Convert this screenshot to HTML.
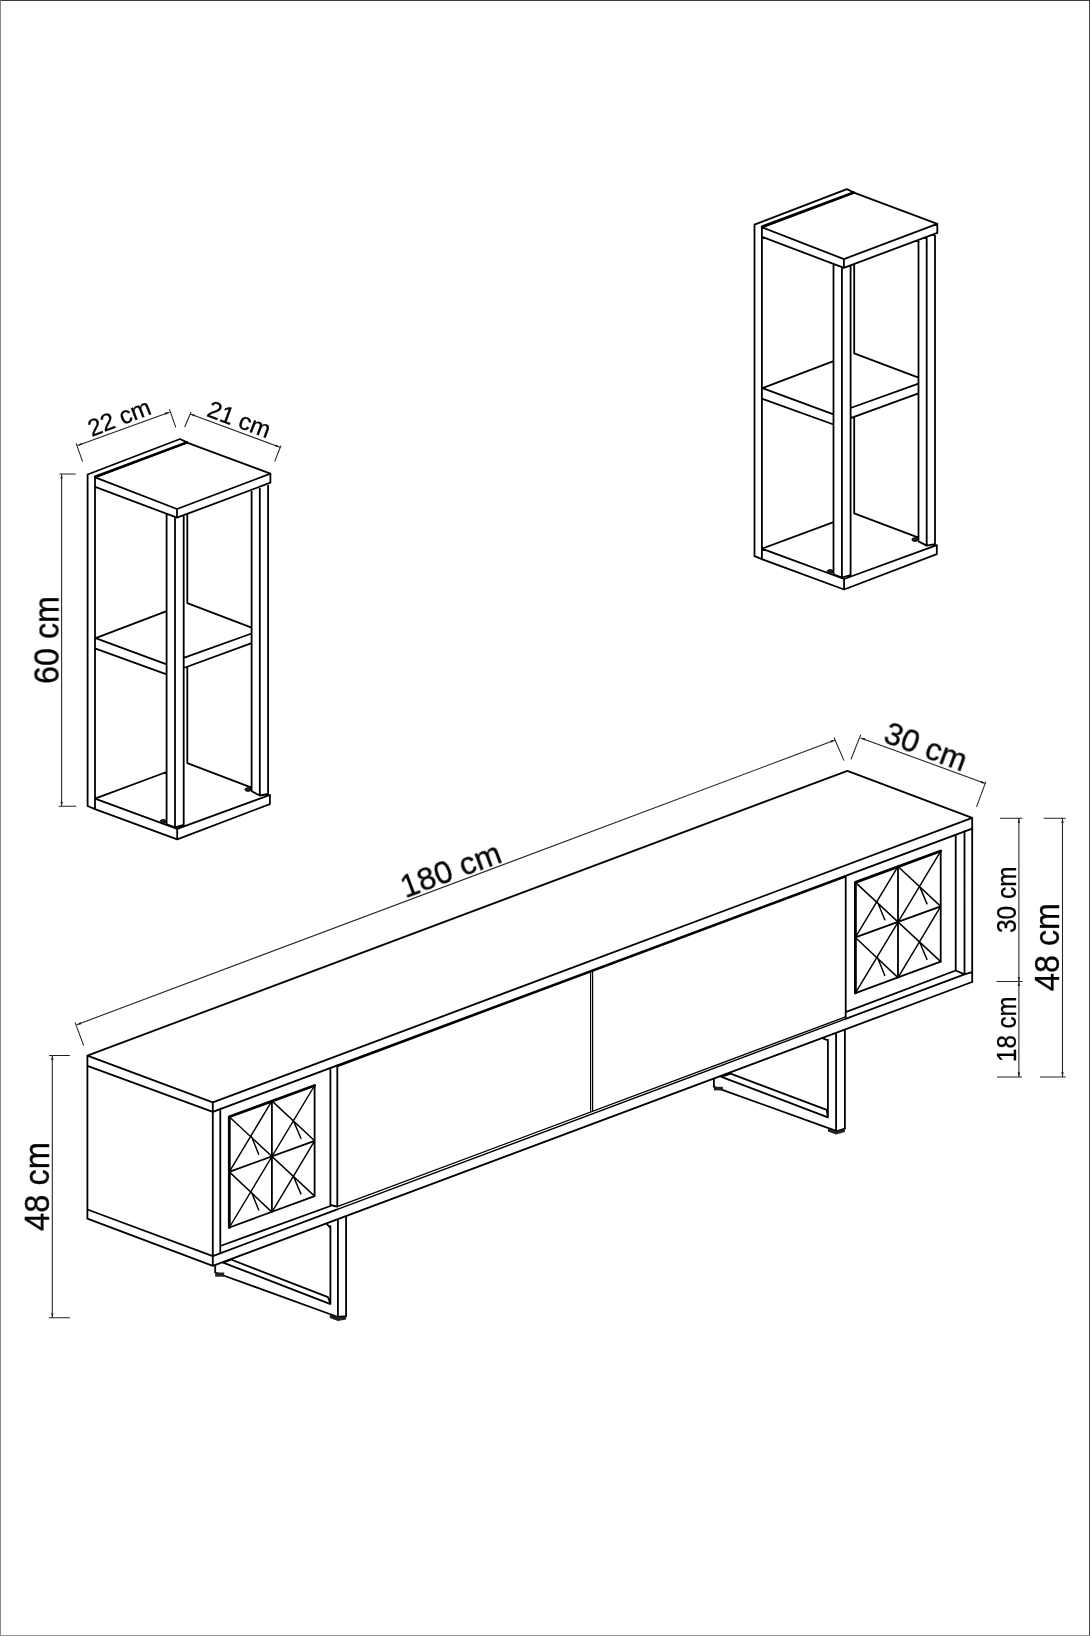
<!DOCTYPE html>
<html lang="tr">
<head>
<meta charset="utf-8">
<title>TV Unit Dimensions</title>
<style>
html,body{margin:0;padding:0;background:#fff;}
body{width:1090px;height:1636px;overflow:hidden;position:relative;}
.frame{position:absolute;left:0;top:0;width:1090px;height:1636px;box-sizing:border-box;
border-top:1px solid #3a3a3a;border-right:1px solid #4a4a4a;border-left:1px solid #8a8a8a;border-bottom:1px solid #949494;}
svg{position:absolute;left:0;top:0;display:block;}
text{font-family:"Liberation Sans",sans-serif;fill:#000;stroke:#000;stroke-width:0.3px;}
svg g.t{filter:grayscale(1);}
</style>
</head>
<body>
<svg width="1090" height="1636" viewBox="0 0 1090 1636">
<g fill="none" stroke="#000" stroke-linejoin="round" stroke-linecap="round"><path stroke-width="1.8" d="M87.6 806.0L87.6 474.5L180.0 439.0L187.0 442.4M95.0 477.3L95.0 809.1M87.6 806.0L95.0 809.1M95.2 477.3L187.0 442.6L270.4 473.7L177.0 509.0ZM95.2 486.8L177.0 517.7L270.4 482.7M177.0 509.0L177.0 517.7M270.4 473.7L270.4 482.7M166.6 513.8L166.6 824.3L175.0 827.4L183.7 824.9L183.7 515.2M175.0 517.0L175.0 827.4M187.3 513.9L187.3 603.2M187.3 667.0L187.3 763.2M251.6 489.7L251.6 791.3L259.8 795.5L268.1 794.0L268.1 483.6M259.8 486.7L259.8 795.5M166.6 611.1L95.6 638.1L166.6 664.3M95.6 648.7L166.6 674.4M187.3 603.2L251.6 627.6M183.7 657.9L251.6 633.5M183.7 668.0L251.6 643.2M166.6 772.0L95.0 798.6L177.2 828.9L269.9 795.0M187.3 763.2L251.6 787.6M95.0 809.1L177.2 839.4L269.9 804.1L269.9 795.0M177.2 828.9L177.2 839.4"/><path stroke-width="2.6" d="M95.2 476.6L187.0 442.4"/><ellipse cx="163.3" cy="821.3" rx="3" ry="1.8" fill="#222"/><ellipse cx="248" cy="789.5" rx="3" ry="1.8" fill="#222"/></g>
<g transform="translate(666.9 -249.9)" fill="none" stroke="#000" stroke-linejoin="round" stroke-linecap="round"><path stroke-width="1.8" d="M87.6 806.0L87.6 474.5L180.0 439.0L187.0 442.4M95.0 477.3L95.0 809.1M87.6 806.0L95.0 809.1M95.2 477.3L187.0 442.6L270.4 473.7L177.0 509.0ZM95.2 486.8L177.0 517.7L270.4 482.7M177.0 509.0L177.0 517.7M270.4 473.7L270.4 482.7M166.6 513.8L166.6 824.3L175.0 827.4L183.7 824.9L183.7 515.2M175.0 517.0L175.0 827.4M187.3 513.9L187.3 603.2M187.3 667.0L187.3 763.2M251.6 489.7L251.6 791.3L259.8 795.5L268.1 794.0L268.1 483.6M259.8 486.7L259.8 795.5M166.6 611.1L95.6 638.1L166.6 664.3M95.6 648.7L166.6 674.4M187.3 603.2L251.6 627.6M183.7 657.9L251.6 633.5M183.7 668.0L251.6 643.2M166.6 772.0L95.0 798.6L177.2 828.9L269.9 795.0M187.3 763.2L251.6 787.6M95.0 809.1L177.2 839.4L269.9 804.1L269.9 795.0M177.2 828.9L177.2 839.4"/><path stroke-width="2.6" d="M95.2 476.6L187.0 442.4"/><ellipse cx="163.3" cy="821.3" rx="3" ry="1.8" fill="#222"/><ellipse cx="248" cy="789.5" rx="3" ry="1.8" fill="#222"/></g>
<g fill="none" stroke="#000" stroke-linejoin="round" stroke-linecap="round">
<path stroke-width="1.8" d="M87.4 1055.6L847.4 770.8L972.2 817.9L212.8 1102.4ZM87.4 1065.8L212.8 1111.9M87.4 1055.6L87.4 1218.6M87.4 1209.5L212.8 1256.1M87.4 1218.6L212.8 1265.9M212.8 1102.4L212.8 1265.9M220.3 1109.1L220.3 1252.6M212.8 1256.1L337.3 1209.4M845.7 1018.8L964.5 974.3M212.8 1265.9L972.0 982.0M220.3 1246.0L330.4 1206.0M330.4 1068.0L330.4 1205.0M330.4 1205.0L337.3 1206.6M337.3 1065.5L337.3 1206.6M845.7 875.8L845.7 1016.8M845.7 1012.2L955.7 970.5M955.7 834.8L955.7 970.5M964.5 831.5L964.5 974.3M972.2 817.9L972.2 982.0M955.7 970.5L964.5 974.3M964.5 974.3L972.0 972.2"/>
<path stroke-width="2.0" d="M212.8 1111.9L972.2 828.6"/>
<path stroke-width="1.35" d="M337.3 1066.5L845.7 876.8M337.3 1206.6L845.7 1016.8M337.3 1209.4L845.7 1018.8"/>
<path stroke-width="1.2" stroke-linecap="butt" d="M590.6 972.0L590.6 1112.0M592.6 971.2L592.6 1111.3"/>
<path stroke-width="1.8" d="M330.4 1226.2L330.4 1303.8M327.2 1224.4L330.4 1227.8M337.9 1220.5L337.9 1317.0M346.1 1217.2L346.1 1316.2L337.9 1317.0M215.2 1265.3L215.2 1272.5L337.9 1317.0M223.1 1262.6L329.8 1303.8M232.2 1260.0L328.0 1297.2L330.4 1303.8M223.1 1262.6L232.2 1259.2"/>
<path stroke-width="1.8" d="M827.9 1039.7L827.9 1117.3M822.5 1038.2L827.9 1040.5M836.1 1034.0L836.1 1131.4M844.9 1030.6L844.9 1128.6L836.1 1131.4M713.9 1079.0L713.9 1086.8L836.1 1130.9M721.4 1076.9L827.9 1117.3M730.5 1073.6L826.7 1109.9L827.9 1117.3M721.4 1076.9L730.5 1073.6"/>
</g>
<rect x="215.2" y="1272.5" width="9" height="4.2" fill="#222"/><path d="M329.8 1314.5L337.9 1317.3L346.1 1316.2L346.1 1319.6L337.9 1321L329.8 1318Z" fill="#222"/><rect x="713.9" y="1086.8" width="9" height="3.6" fill="#222"/><path d="M827.9 1128.4L836.1 1131.2L844.9 1128.6L844.9 1132L836.1 1134.6L827.9 1131.6Z" fill="#222"/>
<g fill="none" stroke="#000" stroke-linejoin="round" stroke-linecap="round"><path stroke-width="2.8" d="M229.3 1227.5L229.3 1116.8L314.6 1085.5"/><path stroke-width="1.8" d="M314.6 1085.5L314.6 1196.1L229.3 1227.5M271.9 1100.9L271.9 1212.1M229.3 1171.9L314.6 1140.8"/><path stroke-width="1.45" d="M229.3 1116.8L314.6 1196.1M229.3 1227.5L314.6 1085.5M271.9 1100.9L314.6 1140.8L271.9 1212.1L229.3 1171.9ZM251.3 1136.1L258.7 1154.3M293.2 1120.1L300.9 1138.3M251.3 1191.7L258.7 1209.9M293.2 1175.7L300.9 1193.9"/></g>
<g transform="translate(626.1 -234.45)" fill="none" stroke="#000" stroke-linejoin="round" stroke-linecap="round"><path stroke-width="2.8" d="M229.3 1227.5L229.3 1116.8L314.6 1085.5"/><path stroke-width="1.8" d="M314.6 1085.5L314.6 1196.1L229.3 1227.5M271.9 1100.9L271.9 1212.1M229.3 1171.9L314.6 1140.8"/><path stroke-width="1.45" d="M229.3 1116.8L314.6 1196.1M229.3 1227.5L314.6 1085.5M271.9 1100.9L314.6 1140.8L271.9 1212.1L229.3 1171.9ZM251.3 1136.1L258.7 1154.3M293.2 1120.1L300.9 1138.3M251.3 1191.7L258.7 1209.9M293.2 1175.7L300.9 1193.9"/></g>
<path fill="none" stroke="#222" stroke-width="1.05" d="M77.6 445.5L169.4 412.2M76.1 443.4L82.6 461.6M169.4 409.1L175.8 427.3M190.2 413.9L280.0 447.3M191.1 412.0L184.7 427.0M280.9 445.8L274.7 461.4M61.6 474.0L61.6 806.3M59.5 474.0L75.7 474.0M58.7 806.3L76.2 806.3M76.8 1024.7L835.2 740.0M75.0 1022.4L83.7 1045.6M834.0 737.5L844.0 760.6M860.6 737.9L985.3 783.4M860.8 734.6L851.0 759.2M985.9 781.6L976.5 806.9M52.3 1055.4L52.3 1317.8M49.1 1055.4L69.9 1055.4M49.1 1317.8L69.9 1317.8M1018.9 818.3L1018.9 1076.9M1000.1 818.3L1022.2 818.3M996.5 981.5L1022.6 981.5M997.0 1076.9L1022.0 1076.9M1062.5 818.3L1062.5 1076.9M1043.7 818.3L1065.7 818.3M1040.0 1076.9L1065.7 1076.9"/>
<path fill="#222" stroke="none" d="M61.6 474.0L62.8 478.6L60.4 478.6ZM61.6 806.3L60.4 801.7L62.8 801.7ZM52.3 1055.4L53.5 1060.0L51.1 1060.0ZM52.3 1317.8L51.1 1313.2L53.5 1313.2ZM1018.9 818.3L1020.1 822.9L1017.7 822.9ZM1018.9 981.5L1017.7 976.9L1020.1 976.9ZM1018.9 981.5L1020.1 986.1L1017.7 986.1ZM1018.9 1076.9L1017.7 1072.3L1020.1 1072.3ZM1062.5 818.3L1063.7 822.9L1061.3 822.9ZM1062.5 1076.9L1061.3 1072.3L1063.7 1072.3ZM76.8 1024.7L80.7 1022.0L81.5 1024.2ZM835.2 740.0L831.3 742.7L830.5 740.5ZM77.6 445.5L81.5 442.8L82.3 445.1ZM169.4 412.2L165.5 414.9L164.7 412.6ZM190.2 413.9L194.9 414.4L194.1 416.6ZM280.0 447.3L275.3 446.8L276.1 444.6ZM860.6 737.9L865.3 738.3L864.5 740.6ZM985.3 783.4L980.6 783.0L981.4 780.7Z"/>
<g class="t">
<text transform="translate(91.7 436.9) rotate(-21.0)" font-size="24">22 cm</text>
<text transform="translate(205.7 415.8) rotate(20.3)" font-size="24">21 cm</text>
<text transform="translate(58.5 684) rotate(-90)" font-size="35.3" textLength="88" lengthAdjust="spacingAndGlyphs">60 cm</text>
<text transform="translate(405.3 898.2) rotate(-20.4)" font-size="32">180 cm</text>
<text transform="translate(882.0 741.6) rotate(20.6)" font-size="31.5">30 cm</text>
<text transform="translate(48.9 1231) rotate(-90)" font-size="34.5" textLength="89" lengthAdjust="spacingAndGlyphs">48 cm</text>
<text transform="translate(1015.7 933) rotate(-90)" font-size="27" textLength="66.5" lengthAdjust="spacingAndGlyphs">30 cm</text>
<text transform="translate(1015.7 1062) rotate(-90)" font-size="27" textLength="65.5" lengthAdjust="spacingAndGlyphs">18 cm</text>
<text transform="translate(1058.9 991) rotate(-90)" font-size="34.2" textLength="88" lengthAdjust="spacingAndGlyphs">48 cm</text>
</g>
</svg>
<div class="frame"></div>
</body>
</html>
